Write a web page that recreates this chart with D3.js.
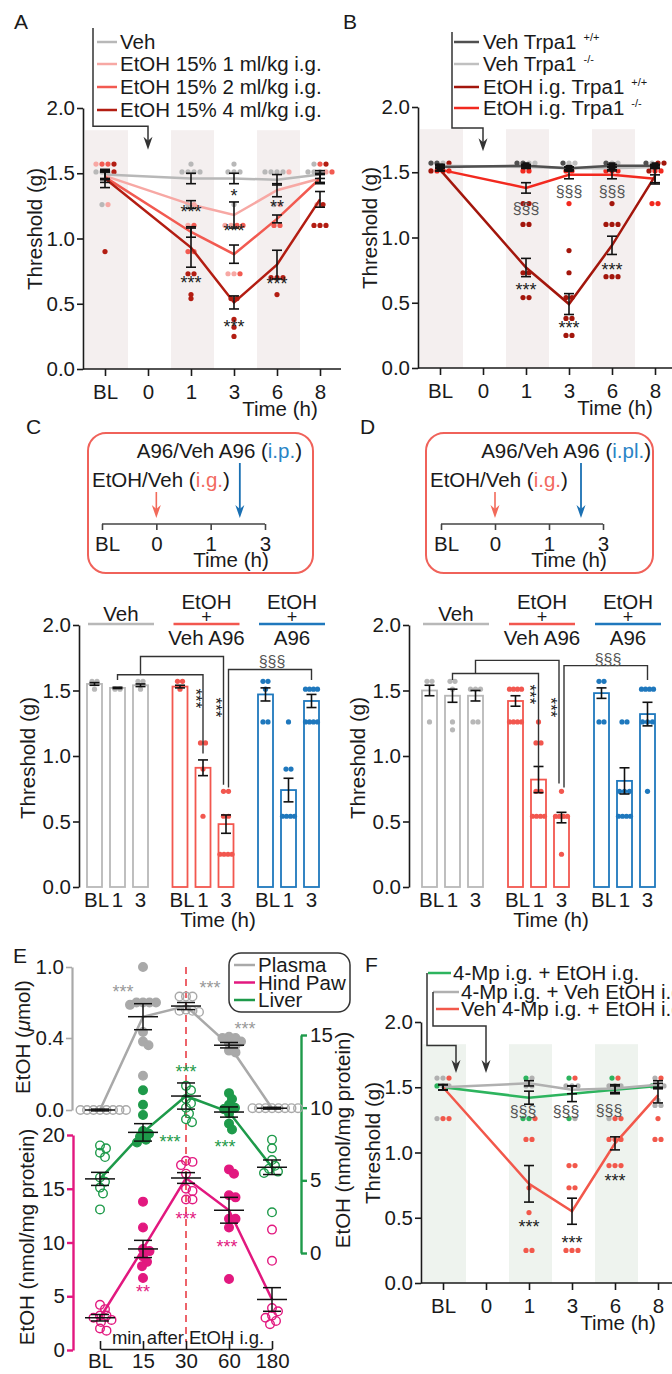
<!DOCTYPE html>
<html>
<head>
<meta charset="utf-8">
<script src="https://cdn.jsdelivr.net/npm/d3@7"></script>
<style>
body { margin: 0; background: #fff; }
svg text { font-family: "Liberation Sans", Arial, Helvetica, sans-serif; }
</style>
</head>
<body>
<svg id="fig" width="672" height="1374"></svg>
<script>
// ---------- shared ----------
const timeTicks = ["BL", "0", "1", "3", "6", "8"];
const timePoints = ["BL", "1", "3", "6", "8"];
const bandTimes = ["BL", "1", "6"];
const thrTicks = [0, 0.5, 1, 1.5, 2];

// ---------- panel A ----------
const aNames = ["Veh", "EtOH 15% 1 ml/kg i.g.", "EtOH 15% 2 ml/kg i.g.", "EtOH 15% 4 ml/kg i.g."];
const aColors = ["#b8b8b8", "#f7a8a4", "#f25a51", "#b31d12"];
const aMeans = [
  [1.49, 1.46, 1.46, 1.45, 1.49],
  [1.48, 1.26, 1.18, 1.37, 1.46],
  [1.47, 1.05, 0.88, 1.15, 1.46],
  [1.46, 0.93, 0.51, 0.80, 1.30]
];
const aSems = [
  [0.03, 0.04, 0.04, 0.04, 0.03],
  [0.03, 0.03, 0.10, 0.05, 0.03],
  [0.04, 0.04, 0.07, 0.03, 0.04],
  [0.07, 0.15, 0.05, 0.11, 0.06]
];
const aDots = [
  [[1.51, 1.51, 1.51, 1.26], [1.57, 1.51, 1.51, 1.51, 1.51, 1.26], [1.57, 1.51, 1.51, 1.51, 1.26], [1.51, 1.51, 1.51, 1.51, 1.26], [1.57, 1.51, 1.51, 1.51]],
  [[1.57, 1.26], [1.26, 1.10], [1.10, 1.10, 0.73, 0.73], [1.26, 1.51], [1.51, 1.26]],
  [[1.57, 1.57], [0.90, 0.90, 1.10], [1.10, 1.10, 0.73], [1.10, 1.10], [1.57, 1.51]],
  [[1.57, 1.51, 0.90], [0.73, 0.73, 0.57, 0.54], [0.54, 0.54, 0.38, 0.32, 0.25], [0.70, 0.70, 0.70, 0.57], [1.57, 1.26, 1.10, 1.10, 1.10]]
];
const aStars = [["1", 1.23, "***"], ["1", 0.69, "***"], ["3", 1.36, "*"], ["3", 1.09, "***"], ["3", 0.35, "***"], ["6", 1.27, "**"], ["6", 0.68, "***"]];

// ---------- panel B ----------
const bNames = ["Veh Trpa1", "Veh Trpa1", "EtOH i.g. Trpa1", "EtOH i.g. Trpa1"];
const bGenotypes = ["+/+", "-/-", "+/+", "-/-"];
const bColors = ["#505050", "#c0c0c0", "#a3160c", "#f2291f"];
const bMeans = [
  [1.54, 1.55, 1.53, 1.55, 1.55],
  [1.55, 1.54, 1.53, 1.53, 1.54],
  [1.52, 0.77, 0.49, 0.94, 1.47],
  [1.52, 1.38, 1.48, 1.48, 1.45]
];
const bSems = [
  [0.01, 0.01, 0.01, 0.01, 0.01],
  [0.01, 0.01, 0.01, 0.01, 0.01],
  [0.01, 0.07, 0.08, 0.07, 0.06],
  [0.01, 0.04, 0.03, 0.03, 0.03]
];
const bDots = [
  [[1.57, 1.57], [1.57, 1.57], [1.57], [1.57], [1.57]],
  [[1.57], [1.57, 1.57], [1.57, 1.57], [1.57, 1.57], [1.57]],
  [[1.57, 1.51], [1.26, 1.26, 1.10, 1.10, 0.73, 0.73, 0.54, 0.54], [0.90, 0.73, 0.54, 0.54, 0.38, 0.38, 0.25, 0.25], [1.26, 1.10, 1.10, 1.10, 0.70, 0.70, 0.70], [1.57, 1.57, 1.51]],
  [[1.51, 1.51, 1.51], [1.51, 1.51], [1.51, 1.51, 1.26], [1.51, 1.51, 1.51], [1.51, 1.51, 1.26, 1.26]]
];
const bStars = [["1", 1.22, "§§§"], ["3", 1.35, "§§§"], ["6", 1.35, "§§§"], ["1", 0.63, "***"], ["3", 0.34, "***"], ["6", 0.78, "***"]];

// ---------- panels C / D ----------
const barGroups = ["Veh", "EtOH + Veh A96", "EtOH + A96"];
const barGroupTitles = [["Veh"], ["EtOH", "+", "Veh A96"], ["EtOH", "+", "A96"]];
const barTimes = ["BL", "1", "3"];
const barColors = ["#b8b8b8", "#f2574f", "#1f78bd"];
const cMeans = [[1.55, 1.52, 1.54], [1.53, 0.91, 0.48], [1.47, 0.74, 1.42]];
const cSems = [[0.01, 0.005, 0.01], [0.01, 0.06, 0.07], [0.05, 0.09, 0.05]];
const cDots = [
  [[1.57, 1.57, 1.51], [1.51, 1.51], [1.57, 1.57, 1.51]],
  [[1.57, 1.57, 1.51], [1.10, 1.10, 0.90, 0.54], [0.73, 0.73, 0.54, 0.54, 0.25, 0.25, 0.25, 0.25]],
  [[1.57, 1.57, 1.51, 1.26, 1.26], [1.26, 0.90, 0.90, 0.54, 0.54, 0.54, 0.54], [1.51, 1.51, 1.51, 1.51, 1.26, 1.26, 1.26, 1.26]]
];
const dMeans = [[1.50, 1.46, 1.46], [1.42, 0.82, 0.53], [1.48, 0.81, 1.32]];
const dSems = [[0.04, 0.05, 0.04], [0.04, 0.10, 0.04], [0.04, 0.10, 0.09]];
const dDots = [
  [[1.57, 1.57, 1.26], [1.57, 1.57, 1.51, 1.26, 1.20], [1.51, 1.51, 1.51, 1.26, 1.26]],
  [[1.51, 1.51, 1.51, 1.51, 1.26, 1.26, 1.26, 1.26], [1.26, 1.10, 1.10, 0.73, 0.73, 0.54, 0.54, 0.54, 0.54], [0.73, 0.54, 0.54, 0.54, 0.54, 0.25]],
  [[1.57, 1.57, 1.26, 1.26], [1.26, 1.26, 0.73, 0.73, 0.73, 0.54, 0.54, 0.54, 0.54], [1.51, 1.51, 1.51, 1.51, 1.26, 1.26, 1.26, 0.73]]
];
const schemeTicks = ["BL", "0", "1", "3"];

// ---------- panel E ----------
const eTimes = ["BL", "15", "30", "60", "180"];
const eFilled = [false, true, false, true, false];
const eNames = ["Plasma", "Hind Paw", "Liver"];
const plasmaMeans = [0.0, 0.58, 0.67, 0.36, 0.01];
const plasmaSems = [0.005, 0.11, 0.03, 0.015, 0.005];
const plasmaDots = [
  [0, 0, 0, 0, 0, 0, 0, 0],
  [1.0, 0.70, 0.70, 0.70, 0.70, 0.68, 0.45, 0.38, 0.36, 0.19],
  [0.75, 0.75, 0.75, 0.64, 0.63, 0.63, 0.62],
  [0.41, 0.40, 0.40, 0.38, 0.37, 0.36, 0.33, 0.32],
  [0.01, 0.01, 0.01, 0.01, 0.01, 0.01, 0.01, 0.01]
];
const liverMeans = [5.1, 8.3, 10.8, 9.7, 5.9];
const liverSems = [0.45, 0.6, 0.9, 0.35, 0.5];
const liverDots = [
  [7.4, 7.2, 6.9, 6.6, 5.2, 4.9, 4.5, 4.1, 3.0],
  [11.2, 10.2, 9.5, 8.4, 8.2, 8.0, 7.8, 7.6],
  [11.5, 11.2, 10.6, 10.3, 10.0, 9.6, 9.2, 9.0],
  [11.0, 10.6, 10.2, 10.0, 9.9, 9.6, 8.9, 8.5],
  [7.8, 7.2, 6.4, 6.0, 5.8, 5.6, 5.5, 2.8]
];
const pawMeans = [3.0, 9.4, 16.0, 13.0, 4.7];
const pawSems = [0.3, 0.8, 0.5, 1.2, 1.1];
const pawDots = [
  [4.2, 3.8, 3.2, 3.2, 3.0, 2.8, 2.6, 2.0, 1.8],
  [13.8, 11.4, 9.4, 9.2, 8.7, 8.2, 7.8, 6.7],
  [17.6, 17.5, 17.2, 16.4, 15.0, 14.8, 14.0, 14.0],
  [16.8, 16.4, 14.4, 14.2, 12.2, 12.2, 11.4, 6.6],
  [11.2, 8.3, 3.9, 3.6, 3.2, 3.0, 2.7, 2.4]
];
const plasmaStars = [["15", 0.82, "***"], ["30", 0.86, "***"], ["60", 0.51, "***"]];
const liverStars = [["15", 7.9, "***"], ["30", 12.7, "***"], ["60", 7.6, "***"]];
const pawStars = [["15", 5.8, "**"], ["30", 12.6, "***"], ["60", 10.0, "***"]];

// ---------- panel F ----------
const fNames = ["4-Mp i.g. + EtOH i.g.", "4-Mp i.g. + Veh EtOH i.g.", "Veh 4-Mp i.g. + EtOH i.g."];
const fColors = ["#2db45e", "#b0b0b0", "#f2584b"];
const fMeans = [
  [1.50, 1.42, 1.45, 1.48, 1.51],
  [1.50, 1.53, 1.48, 1.49, 1.52],
  [1.50, 0.76, 0.55, 1.07, 1.44]
];
const fSems = [
  [0.02, 0.05, 0.06, 0.03, 0.02],
  [0.02, 0.02, 0.03, 0.03, 0.03],
  [0.02, 0.14, 0.10, 0.05, 0.06]
];
const fDots = [
  [[1.51], [1.57, 1.26, 1.26], [1.57, 1.26], [1.57], [1.51]],
  [[1.57, 1.57, 1.51, 1.51, 1.26], [1.57, 1.51, 1.51], [1.51, 1.51, 1.51, 1.26], [1.51, 1.51, 1.51, 1.26], [1.57, 1.51, 1.51, 1.40, 1.36, 1.36]],
  [[1.57, 1.26, 1.26], [1.26, 1.10, 1.10, 0.73, 0.54, 0.25, 0.25], [1.57, 0.90, 0.90, 0.73, 0.73, 0.25, 0.25, 0.25], [1.57, 1.26, 1.26, 1.10, 1.10, 1.10, 0.90, 0.90, 0.90], [1.57, 1.26, 1.10, 1.10]]
];
const fStars = [["1", 1.31, "§§§"], ["3", 1.31, "§§§"], ["6", 1.32, "§§§"], ["1", 0.46, "***"], ["3", 0.34, "***"], ["6", 0.81, "***"]];

// ---------- drawing ----------
const FS = 20.5;
const INK = "#1a1a1a";
const svg = d3.select("#fig");
svg.append("rect").attr("width", 672).attr("height", 1374).attr("fill", "#fff");

function styleAxis(g, color) {
  g.attr("font-size", FS);
  g.selectAll("path,line").attr("stroke", color || INK).attr("stroke-width", 1.6);
  g.selectAll("text").attr("fill", INK);
}

function label(g, x, y, s, size, anchor, fill) {
  return g.append("text").attr("x", x).attr("y", y)
    .attr("font-size", size || FS)
    .attr("text-anchor", anchor || "start")
    .attr("fill", fill || INK)
    .text(s);
}

function vLabel(g, cx, cy, s) {
  return g.append("text")
    .attr("transform", `translate(${cx},${cy}) rotate(-90)`)
    .attr("text-anchor", "middle").attr("dy", "0.35em")
    .attr("font-size", FS).attr("fill", INK).text(s);
}

function arrow(g, pts, color, w) {
  const n = pts.length, ex = pts[n - 1][0], ey = pts[n - 1][1];
  const body = pts.slice(0, n - 1).concat([[ex, ey - 7]]);
  g.append("path").attr("d", d3.line()(body)).attr("fill", "none")
    .attr("stroke", color).attr("stroke-width", w || 1.5);
  g.append("path")
    .attr("d", `M${ex},${ey}L${ex - 4.5},${ey - 13}L${ex},${ey - 9}L${ex + 4.5},${ey - 13}Z`)
    .attr("fill", color);
}

// equal values side by side, centred on cx
function rowSwarm(items, cx, step, maxHalf) {
  const out = [];
  for (const [, arr] of d3.group(items, d => d.v.toFixed(2))) {
    const n = arr.length;
    const s = n > 1 ? Math.min(step, 2 * maxHalf / (n - 1)) : 0;
    arr.forEach((d, i) => out.push({ ...d, x: cx + (i - (n - 1) / 2) * s }));
  }
  return out;
}

// greedy beeswarm for continuous values
function swarm(vals, cx, yScale, minD) {
  const placed = [];
  vals.map(v => ({ v, y: yScale(v) })).sort((a, b) => a.y - b.y).forEach(p => {
    let dx = 0;
    for (let k = 0; k < 300; k++) {
      const cand = k === 0 ? 0 : (k % 2 ? 1 : -1) * Math.ceil(k / 2) * 0.5;
      if (placed.every(q => (q.dx - cand) ** 2 + (q.y - p.y) ** 2 >= minD * minD)) { dx = cand; break; }
    }
    placed.push({ ...p, dx });
  });
  return placed.map(p => ({ v: p.v, y: p.y, x: cx + p.dx }));
}

function starText(g, x, y, s, color) {
  const sect = s.startsWith("§");
  const fs = sect ? 16 : 18;
  return g.append("text").attr("x", x).attr("y", y + (sect ? 5 : 10))
    .attr("text-anchor", "middle").attr("font-size", fs)
    .attr("fill", color || (sect ? "#555" : "#222")).text(s);
}

function timeCourse(cfg) {
  const g = svg.append("g");
  const x = d3.scalePoint().domain(timeTicks).range([cfg.ax + 22, cfg.ax + 237]);
  const y = d3.scaleLinear().domain([0, 2]).range([cfg.y0, cfg.y0 - 261]);

  g.selectAll(null).data(bandTimes).join("rect")
    .attr("x", d => x(d) - 20).attr("width", 43)
    .attr("y", y(1.83)).attr("height", cfg.y0 - y(1.83))
    .attr("fill", cfg.band);

  const ya = g.append("g").attr("transform", `translate(${cfg.ax},0)`)
    .call(d3.axisLeft(y).tickValues(thrTicks).tickFormat(d3.format(".1f"))
      .tickSize(6).tickSizeOuter(0).tickPadding(2));
  const xa = g.append("g").attr("transform", `translate(0,${cfg.y0})`)
    .call(d3.axisBottom(x).tickSize(7).tickSizeOuter(0).tickPadding(8));
  xa.select(".domain").attr("d", `M${cfg.ax},0H${cfg.ax + 258}`);
  styleAxis(ya); styleAxis(xa);
  vLabel(g, cfg.ax - 48, cfg.y0 - 140, "Threshold (g)");
  label(g, cfg.ax + 197, cfg.y0 + 47, "Time (h)", FS, "middle");

  // individual animals
  let dots = [];
  timePoints.forEach((t, ti) => {
    const items = [];
    cfg.dots.forEach((s, si) => s[ti].forEach(v => items.push({ v, c: cfg.colors[si] })));
    dots = dots.concat(rowSwarm(items, x(t), 6, 20));
  });
  g.selectAll(null).data(dots).join("circle")
    .attr("cx", d => d.x).attr("cy", d => y(d.v)).attr("r", 2.6).attr("fill", d => d.c);

  // mean lines
  const line = d3.line().x((d, i) => x(timePoints[i])).y(d => y(d));
  cfg.order.forEach(si => {
    g.append("path").datum(cfg.means[si]).attr("d", line)
      .attr("fill", "none").attr("stroke", cfg.colors[si]).attr("stroke-width", 2.5);
  });

  // error bars
  const eb = [];
  cfg.means.forEach((m, si) => m.forEach((v, ti) => eb.push({ x: x(timePoints[ti]), v, s: cfg.sems[si][ti] })));
  const ebg = g.selectAll(null).data(eb).join("g").attr("stroke", "#111").attr("stroke-width", 1.6);
  ebg.append("line").attr("x1", d => d.x).attr("x2", d => d.x).attr("y1", d => y(d.v - d.s)).attr("y2", d => y(d.v + d.s));
  ebg.append("line").attr("x1", d => d.x - 5).attr("x2", d => d.x + 5).attr("y1", d => y(d.v - d.s)).attr("y2", d => y(d.v - d.s));
  ebg.append("line").attr("x1", d => d.x - 5).attr("x2", d => d.x + 5).attr("y1", d => y(d.v + d.s)).attr("y2", d => y(d.v + d.s));

  if (cfg.squares !== undefined) {
    g.selectAll(null).data(cfg.means[cfg.squares]).join("rect")
      .attr("x", (d, i) => x(timePoints[i]) - 3.5).attr("y", d => y(d) - 3.5)
      .attr("width", 7).attr("height", 7).attr("fill", "#111");
  }

  cfg.stars.forEach(s => starText(g, x(s[0]) + (s[2].startsWith("§") ? (cfg.sectDx || 0) : 0), y(s[1]), s[2]));

  // legend
  cfg.legend.forEach((L, i) => {
    g.append("line").attr("x1", L[0]).attr("x2", L[1]).attr("y1", L[3]).attr("y2", L[3])
      .attr("stroke", cfg.colors[i]).attr("stroke-width", 2.5);
    const t = g.append("text").attr("x", L[2]).attr("y", L[3]).attr("dy", "0.35em")
      .attr("font-size", FS).attr("fill", INK).text(cfg.names[i]);
    if (cfg.sups) t.append("tspan").attr("dx", 7).attr("dy", -8).attr("font-size", 11).text(cfg.sups[i]);
  });
  cfg.arrows(x, y).forEach(p => arrow(g, p, "#333", 1.5));
  label(g, cfg.letter[1], cfg.letter[2], cfg.letter[0], 21);
}

timeCourse({
  ax: 83, y0: 369, band: "#f4efef", names: aNames, colors: aColors,
  means: aMeans, sems: aSems, dots: aDots, stars: aStars, order: [0, 1, 2, 3],
  legend: [[97, 117, 120, 42], [97, 117, 120, 64], [97, 117, 120, 87], [97, 117, 120, 110]],
  arrows: (x, y) => [[[93, 28], [93, y(1.86)], [x("0"), y(1.86)], [x("0"), y(1.68)]]],
  letter: ["A", 14, 29]
});

timeCourse({
  ax: 418, y0: 368, band: "#f4efef", names: bNames, sups: bGenotypes, colors: bColors,
  means: bMeans, sems: bSems, dots: bDots, stars: bStars, order: [1, 0, 3, 2], squares: 0,
  legend: [[454, 479, 483, 42], [454, 479, 483, 64], [454, 479, 483, 87], [454, 479, 483, 108]],
  arrows: (x, y) => [[[452, 32], [452, y(1.84)], [x("0"), y(1.84)], [x("0"), y(1.66)]]],
  letter: ["B", 343, 29]
});

timeCourse({
  ax: 421, y0: 1283, band: "#eef3ee", names: fNames, colors: fColors,
  means: fMeans, sems: fSems, dots: fDots, stars: fStars, order: [0, 1, 2], sectDx: -6,
  legend: [[428, 451, 453, 973], [433, 459, 461, 992], [436, 459, 461, 1009]],
  arrows: (x, y) => [
    [[427, 973], [427, y(1.82)], [x("BL") + 13, y(1.82)], [x("BL") + 13, y(1.61)]],
    [[433, 992], [433, y(1.97)], [x("0"), y(1.97)], [x("0"), y(1.61)]]
  ],
  letter: ["F", 365, 972]
});

// ---------- C / D schematic ----------
function schematic(cfg) {
  const g = svg.append("g");
  g.append("rect").attr("x", cfg.bx).attr("y", 433).attr("width", cfg.bw).attr("height", 140)
    .attr("rx", 18).attr("fill", "none").attr("stroke", "#f0625a").attr("stroke-width", 2);
  const x = d3.scalePoint().domain(schemeTicks).range([cfg.t0, cfg.t1]);
  const ax = g.append("g").attr("transform", "translate(0,524)")
    .call(d3.axisBottom(x).tickSize(6).tickSizeOuter(0).tickPadding(6));
  ax.select(".domain").attr("d", `M${cfg.t0},0H${cfg.t1}`);
  styleAxis(ax, "#444");
  ax.selectAll(".tick text").attr("dy", "0.71em").attr("dx", d => d === "BL" ? 5 : 0);
  label(g, x("3") - 34, 567, "Time (h)", FS, "middle");
  const t1 = label(g, cfg.topEnd, 458, "A96/Veh A96 (", FS, "end");
  t1.append("tspan").attr("fill", "#2a84c6").text(cfg.route);
  t1.append("tspan").text(")");
  const t2 = label(g, cfg.bx + 4, 487, "EtOH/Veh (", FS, "start");
  t2.append("tspan").attr("fill", "#f26a5f").text("i.g.");
  t2.append("tspan").text(")");
  arrow(g, [[x("0"), 492], [x("0"), 518]], "#f26a5a", 1.6);
  const bxA = (x("1") + x("3")) / 2 + cfg.blueDx;
  arrow(g, [[bxA, 463], [bxA, 518]], "#1a70b3", 1.8);
  label(g, cfg.letter[1], 434, cfg.letter[0], 21);
}
schematic({ bx: 88, bw: 225, t0: 102, t1: 265, topEnd: 302, route: "i.p.", blueDx: 2, letter: ["C", 26] });
schematic({ bx: 426, bw: 227, t0: 441, t1: 603, topEnd: 651, route: "i.pl.", blueDx: 5, letter: ["D", 360] });

// ---------- C / D bars ----------
function barPanel(cfg) {
  const g = svg.append("g");
  const y = d3.scaleLinear().domain([0, 2]).range([887, 625]);
  const gx = d3.scalePoint().domain(barGroups).range([cfg.bx, cfg.bx + 2 * cfg.gStep]);
  const tx = d3.scalePoint().domain(barTimes).range([0, 46]);
  const cx = (gi, ti) => gx(barGroups[gi]) + tx(barTimes[ti]) + 7.5;

  const bars = [];
  cfg.means.forEach((row, gi) => row.forEach((m, ti) => bars.push({ gi, ti, m, s: cfg.sems[gi][ti] })));
  g.selectAll(null).data(bars).join("rect")
    .attr("x", d => cx(d.gi, d.ti) - 7.5).attr("width", 15)
    .attr("y", d => y(d.m)).attr("height", d => 887 - y(d.m))
    .attr("fill", "#fff").attr("stroke", d => barColors[d.gi]).attr("stroke-width", 1.8);

  let dots = [];
  cfg.dots.forEach((grp, gi) => grp.forEach((vals, ti) => {
    dots = dots.concat(rowSwarm(vals.map(v => ({ v, c: barColors[gi] })), cx(gi, ti), 5, 6));
  }));
  g.selectAll(null).data(dots).join("circle")
    .attr("cx", d => d.x).attr("cy", d => y(d.v)).attr("r", 2.6).attr("fill", d => d.c);

  const ebg = g.selectAll(null).data(bars).join("g").attr("stroke", "#111").attr("stroke-width", 1.6);
  ebg.append("line").attr("x1", d => cx(d.gi, d.ti)).attr("x2", d => cx(d.gi, d.ti)).attr("y1", d => y(d.m - d.s)).attr("y2", d => y(d.m + d.s));
  [-1, 1].forEach(k => ebg.append("line")
    .attr("x1", d => cx(d.gi, d.ti) - 5).attr("x2", d => cx(d.gi, d.ti) + 5)
    .attr("y1", d => y(d.m + k * d.s)).attr("y2", d => y(d.m + k * d.s)));

  const ya = g.append("g").attr("transform", `translate(${cfg.ax},0)`)
    .call(d3.axisLeft(y).tickValues(thrTicks).tickFormat(d3.format(".1f"))
      .tickSize(6).tickSizeOuter(0).tickPadding(2));
  styleAxis(ya);
  vLabel(g, cfg.ax - 51, 758, "Threshold (g)");

  g.selectAll(null).data(bars).join("text")
    .attr("x", d => cx(d.gi, d.ti) + (d.ti === 0 ? 2 : 0)).attr("y", 907)
    .attr("text-anchor", "middle").attr("font-size", FS).attr("fill", INK)
    .text(d => barTimes[d.ti]);
  label(g, cfg.timeX, 927, "Time (h)", FS, "middle");

  // group headers
  barGroupTitles.forEach((lines, gi) => {
    const x0 = gx(barGroups[gi]);
    g.append("line").attr("x1", x0 + 1).attr("x2", x0 + 67).attr("y1", 624).attr("y2", 624)
      .attr("stroke", barColors[gi]).attr("stroke-width", 2.5);
    const ys = lines.length === 1 ? [621] : [609, 623, 645];
    const sz = lines.length === 1 ? [FS] : [FS, 18, FS];
    lines.forEach((s, i) => label(g, x0 + 34, ys[i], s, sz[i], "middle"));
  });

  // significance brackets
  cfg.brackets.forEach(b => {
    const x1 = cx(b.l[0], b.l[1]) + (b.ldx || 0), x2 = cx(b.r[0], b.r[1]) + (b.rdx || 0);
    g.append("path")
      .attr("d", `M${x1},${y(b.ld)}V${y(b.lv)}H${x2}V${y(b.rd)}`)
      .attr("fill", "none").attr("stroke", "#333").attr("stroke-width", 1.4);
  });
  cfg.vstars.forEach(s => {
    g.append("text").attr("transform", `translate(${cx(1, s[0]) + s[2]},${y(s[1])}) rotate(90)`)
      .attr("text-anchor", "middle").attr("dy", "0.55em").attr("font-size", 17).attr("fill", "#222").text("***");
  });
  starText(g, cfg.sect[0], y(cfg.sect[1]), "§§§");
}

barPanel({
  ax: 79, bx: 87, gStep: 85.5, means: cMeans, sems: cSems, dots: cDots, timeX: 218,
  brackets: [
    { l: [0, 1], r: [1, 1], lv: 1.62, ld: 1.58, rd: 1.02 },
    { l: [0, 2], r: [1, 2], rdx: -2.5, lv: 1.76, ld: 1.62, rd: 0.78 },
    { l: [1, 2], ldx: 2.5, r: [2, 2], lv: 1.66, ld: 0.76, rd: 1.58 }
  ],
  vstars: [[1, 1.44, -4], [2, 1.37, -7]],
  sect: [272, 1.72]
});
barPanel({
  ax: 409, bx: 422, gStep: 86, means: dMeans, sems: dSems, dots: dDots, timeX: 551,
  brackets: [
    { l: [0, 1], r: [1, 1], lv: 1.63, ld: 1.58, rd: 0.92 },
    { l: [0, 2], r: [1, 2], rdx: -2.5, lv: 1.73, ld: 1.63, rd: 0.79 },
    { l: [1, 2], ldx: 2.5, r: [2, 2], lv: 1.69, ld: 0.76, rd: 1.58 }
  ],
  vstars: [[1, 1.47, -5], [2, 1.37, -7]],
  sect: [608, 1.73]
});

// ---------- panel E ----------
(function panelE() {
  const g = svg.append("g");
  const x = d3.scalePoint().domain(eTimes).range([100, 272]);
  const yP = d3.scaleLinear().domain([0, 0.4, 1.0]).range([1110, 1038, 967]);
  const yH = d3.scaleLinear().domain([0, 20]).range([1350, 1135]);
  const yL = d3.scaleLinear().domain([0, 15]).range([1253, 1035]);
  const cP = "#a9a9a9", cH = "#e2187f", cL = "#1e9a4a";

  g.append("line").attr("x1", x("30")).attr("x2", x("30")).attr("y1", 967).attr("y2", 1342)
    .attr("stroke", "#e8303a").attr("stroke-width", 1.5).attr("stroke-dasharray", "7,5");

  const aP = g.append("g").attr("transform", "translate(72,0)")
    .call(d3.axisLeft(yP).tickValues([0, 0.4, 1.0]).tickFormat(d3.format(".1f")).tickSize(6).tickSizeOuter(0).tickPadding(2));
  styleAxis(aP, cP); aP.select(".domain").attr("stroke-width", 2.2);
  const aH = g.append("g").attr("transform", "translate(73,0)")
    .call(d3.axisLeft(yH).tickValues([0, 5, 10, 15, 20]).tickFormat(d3.format("d")).tickSize(6).tickSizeOuter(0).tickPadding(2));
  styleAxis(aH, cH); aH.selectAll("path,line").attr("stroke-width", 2.4);
  const aL = g.append("g").attr("transform", "translate(301,0)")
    .call(d3.axisRight(yL).tickValues([0, 5, 10, 15]).tickFormat(d3.format("d")).tickSize(6).tickSizeOuter(0).tickPadding(3));
  styleAxis(aL, cL); aL.selectAll("path,line").attr("stroke-width", 2.4);

  const aX = g.append("g").attr("transform", "translate(0,1349)")
    .call(d3.axisBottom(x).tickSize(-8).tickSizeOuter(0).tickPadding(4));
  styleAxis(aX);
  aX.selectAll(".tick text").attr("dy", "0.71em");
  label(g, 188, 1344, "min after EtOH i.g.", 18.5, "middle");

  const pl = g.append("text").attr("transform", "translate(23,1037) rotate(-90)")
    .attr("text-anchor", "middle").attr("dy", "0.35em").attr("font-size", FS).attr("fill", INK);
  pl.append("tspan").text("EtOH (");
  pl.append("tspan").attr("font-style", "italic").text("μ");
  pl.append("tspan").text("mol)");
  vLabel(g, 27, 1237, "EtOH (nmol/mg protein)");
  vLabel(g, 343, 1140, "EtOH (nmol/mg protein)");

  const series = [
    { means: plasmaMeans, sems: plasmaSems, dots: plasmaDots, c: cP, y: yP, stars: plasmaStars, sdx: [-20, 24, 16] },
    { means: liverMeans, sems: liverSems, dots: liverDots, c: cL, y: yL, stars: liverStars, sdx: [27, 0, -4] },
    { means: pawMeans, sems: pawSems, dots: pawDots, c: cH, y: yH, stars: pawStars, sdx: [0, 0, -2] }
  ];
  series.forEach(s => {
    g.append("path").datum(s.means)
      .attr("d", d3.line().x((d, i) => x(eTimes[i])).y(d => s.y(d)))
      .attr("fill", "none").attr("stroke", s.c).attr("stroke-width", 2.5);
  });
  series.forEach(s => {
    eTimes.forEach((t, ti) => {
      const pts = swarm(s.dots[ti], x(t), s.y, 6.5);
      g.selectAll(null).data(pts).join("circle")
        .attr("cx", d => d.x).attr("cy", d => d.y).attr("r", 4.3)
        .attr("fill", eFilled[ti] ? s.c : "none").attr("stroke", s.c).attr("stroke-width", 1.4);
    });
  });
  series.forEach(s => {
    s.means.forEach((m, ti) => {
      const cx = x(eTimes[ti]), se = s.sems[ti];
      const eg = g.append("g").attr("stroke", "#111").attr("stroke-width", 1.5);
      eg.append("line").attr("x1", cx).attr("x2", cx).attr("y1", s.y(m - se)).attr("y2", s.y(m + se));
      eg.append("line").attr("x1", cx - 15).attr("x2", cx + 15).attr("y1", s.y(m)).attr("y2", s.y(m));
      [-1, 1].forEach(k => eg.append("line").attr("x1", cx - 9).attr("x2", cx + 9)
        .attr("y1", s.y(m + k * se)).attr("y2", s.y(m + k * se)));
    });
    s.stars.forEach((st, i) => starText(g, x(st[0]) + s.sdx[i], s.y(st[1]), st[2], s.c === cP ? "#999" : s.c));
  });

  // legend box
  g.append("rect").attr("x", 229).attr("y", 953).attr("width", 121).attr("height", 59).attr("rx", 12)
    .attr("fill", "#fff").attr("stroke", "#333").attr("stroke-width", 1.5);
  [cP, cH, cL].forEach((c, i) => {
    const ly = 965 + i * 17.5;
    g.append("line").attr("x1", 234).attr("x2", 255).attr("y1", ly).attr("y2", ly).attr("stroke", c).attr("stroke-width", 2.5);
    g.append("text").attr("x", 258).attr("y", ly).attr("dy", "0.35em").attr("font-size", FS).attr("fill", INK).text(eNames[i]);
  });
  label(g, 13, 963, "E", 21);
})();
</script>
</body>
</html>
